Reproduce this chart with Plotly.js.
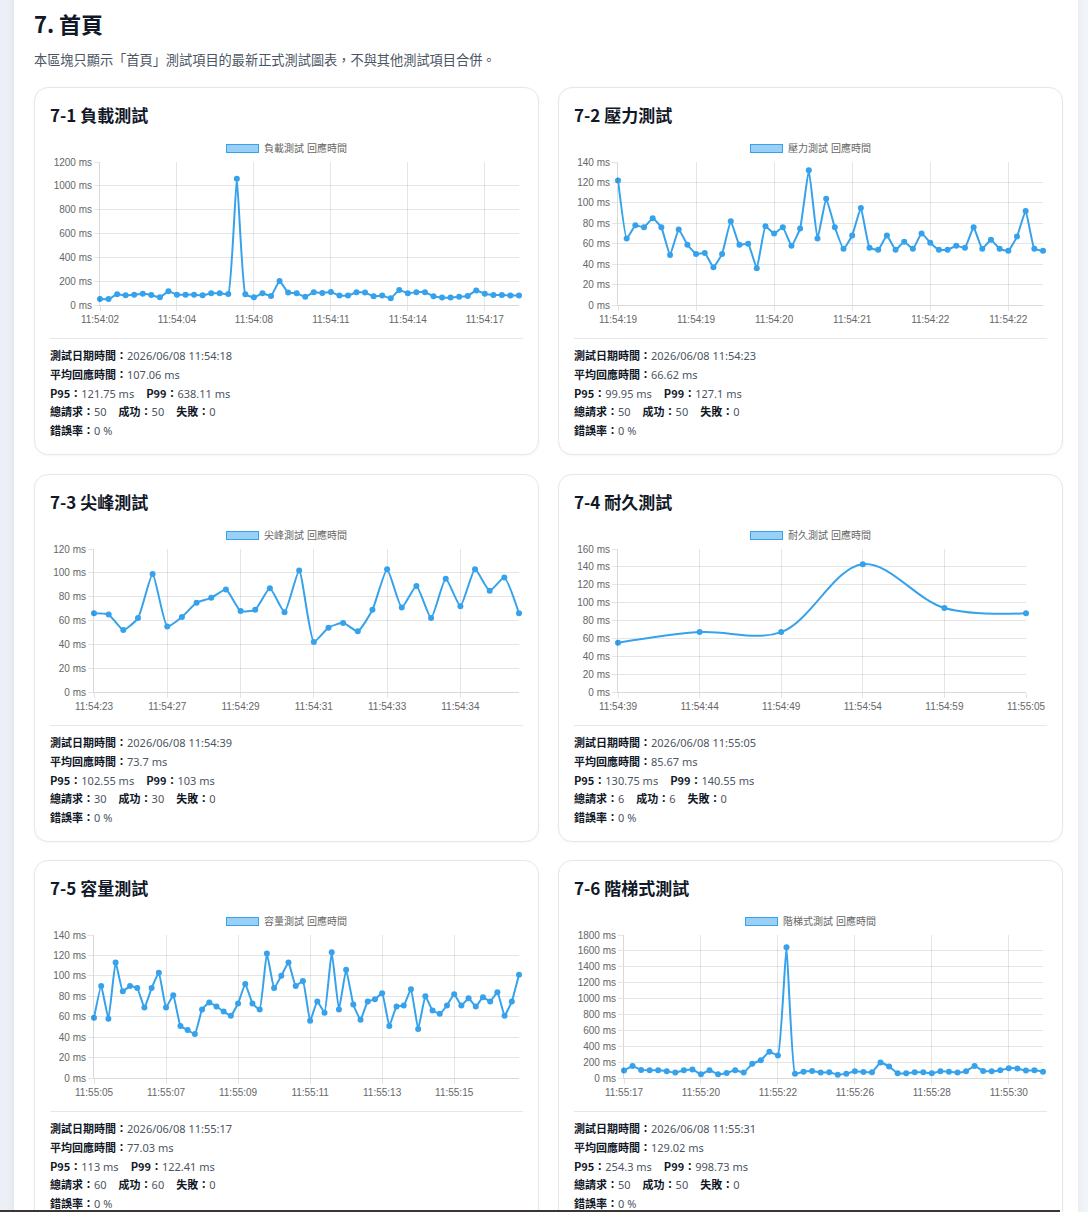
<!DOCTYPE html>
<html>
<head>
<meta charset="utf-8">
<script src="https://cdn.plot.ly/plotly-3.0.1.min.js"></script>
<style>
  html, body { margin:0; padding:0; }
  body { width:1088px; height:1212px; overflow:hidden; position:relative;
         background:linear-gradient(90deg,#eceff5 0%,#f1f4f8 100%);
         font-family:"Noto Sans","Noto Sans CJK TC",sans-serif; }
  .panel { position:absolute; left:14px; top:-30px; width:1064px; height:1300px; background:#fff;
           border-radius:16px; box-shadow:0 0 10px rgba(15,23,42,0.06); }
  .h1 { position:absolute; left:34px; top:7px; font-size:22px; font-weight:700; color:#111827; line-height:32px;
        font-family:"Noto Sans CJK TC","Noto Sans",sans-serif; }
  .sub { position:absolute; left:34px; top:51px; font-size:13.2px; color:#4b5563; line-height:18px;
         font-family:"Noto Sans CJK TC","Noto Sans",sans-serif; }
  .card { position:absolute; width:503px; height:366px; background:#fff; border:1px solid #e3e8ef;
          border-radius:14px; box-shadow:0 1px 3px rgba(15,23,42,0.04); }
  .ctitle { position:absolute; left:15px; top:14px; font-size:17px; font-weight:700; color:#111827; line-height:26px;
            font-family:"Noto Sans CJK TC","Noto Sans",sans-serif; }
  .legend { position:absolute; left:15px; width:473px; top:53px; height:16px; text-align:center;
            font-family:"Liberation Sans","Noto Sans CJK TC",sans-serif; font-size:10px; color:#666; line-height:16px; }
  .legend .box { display:inline-block; width:31px; height:7px; background:rgba(54,162,235,0.5);
                 border:1.5px solid #36a2eb; vertical-align:-1px; margin-right:5px; }
  .chart { position:absolute; left:15px; top:47px; width:473px; height:195px; }
  .divider { position:absolute; left:15px; width:473px; top:250px; height:1px; background:#e5e7eb; }
  .stats { position:absolute; left:15px; top:258px; font-size:11px; color:#4b5563;
           font-family:"Noto Sans","Noto Sans CJK TC",sans-serif; }
  .stats .row { height:18.75px; line-height:18px; white-space:nowrap; overflow:visible; }
  .stats b { color:#111827; font-weight:700; font-family:"Noto Sans CJK TC","Noto Sans",sans-serif; line-height:18px; }
  .gap { display:inline-block; width:12px; }
  .bottomline { position:absolute; left:0; top:1210px; width:1060px; height:2px; background:#3d3535; }
</style>
</head>
<body>
<div class="panel"></div>
<div class="h1">7. 首頁</div>
<div class="sub">本區塊只顯示「首頁」測試項目的最新正式測試圖表，不與其他測試項目合併。</div>
<div id="cards"></div>
<div class="bottomline"></div>
<script>
// ---------- DATA ----------
const cardTitles = ["7-1 負載測試", "7-2 壓力測試", "7-3 尖峰測試", "7-4 耐久測試", "7-5 容量測試", "7-6 階梯式測試"];
const seriesNames = ["負載測試 回應時間", "壓力測試 回應時間", "尖峰測試 回應時間", "耐久測試 回應時間", "容量測試 回應時間", "階梯式測試 回應時間"];

const loadValues = [50,50,90,81,87,95,84,64,115,87, 87,87,81,98,98,92,1060,90,64,98, 76,202,104,98,70,107,101,109,79,79, 107,104,73,79,56,126,98,107,107,73, 62,62,70,76,121,95,84,84,79,79];
const loadTicks = ["11:54:02","11:54:04","11:54:08","11:54:11","11:54:14","11:54:17"];

const stressValues = [122,65,78,76,85,76,49,74,59,50, 51,37,50,82,59,60,36,77,70,76, 58,75,132,65,104,76,55,68,95,56, 54,68,54,62,55,70,61,54,54,58, 56,76,55,64,55,53,67,92,55,53];
const stressTicks = ["11:54:19","11:54:19","11:54:20","11:54:21","11:54:22","11:54:22"];

const spikeValues = [66,65,52,62,99,55,63,75,79,86, 68,69,87,67,102,42,54,58,51,69, 103,71,89,62,95,72,103,85,96,66];
const spikeTicks = ["11:54:23","11:54:27","11:54:29","11:54:31","11:54:33","11:54:34"];

const soakValues = [55,67,67,143,94,88];
const soakTicks = ["11:54:39","11:54:44","11:54:49","11:54:54","11:54:59","11:55:05"];

const volumeValues = [59,90,58,113,85,90,88,69,88,103, 69,81,51,47,43,67,74,70,65,61, 73,92,73,67,122,88,100,113,90,95, 56,75,64,123,67,106,72,57,75,77, 83,51,70,71,87,48,80,66,63,71, 82,71,78,70,79,75,84,61,75,101];
const volumeTicks = ["11:55:05","11:55:07","11:55:09","11:55:11","11:55:13","11:55:15"];

const stepValues = [93,152,102,97,97,85,68,97,106,47, 97,47,64,97,68,178,224,330,284,1647, 55,80,89,68,72,42,55,85,76,72, 195,144,59,59,72,72,59,85,80,68, 85,152,89,85,97,123,119,93,97,80];
const stepTicks = ["11:55:17","11:55:20","11:55:22","11:55:26","11:55:28","11:55:30"];

const yMaxes = [1200, 140, 120, 160, 140, 1800];
const yStepsMs = [200, 20, 20, 20, 20, 200];

const testTimes = ["2026/06/08 11:54:18","2026/06/08 11:54:23","2026/06/08 11:54:39","2026/06/08 11:55:05","2026/06/08 11:55:17","2026/06/08 11:55:31"];
const avgTimes = ["107.06 ms","66.62 ms","73.7 ms","85.67 ms","77.03 ms","129.02 ms"];
const p95s = ["121.75 ms","99.95 ms","102.55 ms","130.75 ms","113 ms","254.3 ms"];
const p99s = ["638.11 ms","127.1 ms","103 ms","140.55 ms","122.41 ms","998.73 ms"];
const totals = [50,50,30,6,60,50];
const successes = [50,50,30,6,60,50];
const failures = [0,0,0,0,0,0];
const errorRates = ["0 %","0 %","0 %","0 %","0 %","0 %"];

// ---------- LAYOUT / STYLE ----------
const allValues = [loadValues, stressValues, spikeValues, soakValues, volumeValues, stepValues];
const allTicks = [loadTicks, stressTicks, spikeTicks, soakTicks, volumeTicks, stepTicks];
const cardPos = [[34,87],[558,87],[34,474],[558,474],[34,860],[558,860]];
const marginL = [50,44,44,44,44,50];
const marginR = [4,4,4,21,4,4];
const smooth = [0.35,0.35,0.5,1.0,0.35,0.35];

const container = document.getElementById('cards');
for (let k = 0; k < 6; k++) {
  const card = document.createElement('div');
  card.className = 'card';
  card.style.left = cardPos[k][0] + 'px';
  card.style.top = cardPos[k][1] + 'px';
  card.innerHTML =
    '<div class="ctitle">' + cardTitles[k] + '</div>' +
    '<div class="chart" id="chart' + k + '"></div>' +
    '<div class="legend"><span class="box"></span>' + seriesNames[k] + '</div>' +
    '<div class="divider"></div>' +
    '<div class="stats">' +
      '<div class="row"><b>測試日期時間：</b>' + testTimes[k] + '</div>' +
      '<div class="row"><b>平均回應時間：</b>' + avgTimes[k] + '</div>' +
      '<div class="row"><b>P95：</b>' + p95s[k] + '<span class="gap"></span><b>P99：</b>' + p99s[k] + '</div>' +
      '<div class="row"><b>總請求：</b>' + totals[k] + '<span class="gap"></span><b>成功：</b>' + successes[k] + '<span class="gap"></span><b>失敗：</b>' + failures[k] + '</div>' +
      '<div class="row"><b>錯誤率：</b>' + errorRates[k] + '</div>' +
    '</div>';
  container.appendChild(card);

  const vals = allValues[k];
  const ticks = allTicks[k];
  const n = vals.length;
  const step = Math.ceil(n / ticks.length);
  const xs = vals.map((_, i) => i);
  const tickvals = ticks.map((_, i) => i * step);

  const grid = 'rgba(0,0,0,0.1)';
  const trace = {
    x: xs, y: vals, type: 'scatter', mode: 'lines+markers',
    line: { color: '#36a2eb', width: 2, shape: 'spline', smoothing: smooth[k] },
    marker: { color: '#36a2eb', size: 6 },
    cliponaxis: false, hoverinfo: 'skip', showlegend: false
  };
  const layout = {
    width: 473, height: 195,
    margin: { l: marginL[k], r: marginR[k], t: 27, b: 25 },
    paper_bgcolor: 'rgba(0,0,0,0)', plot_bgcolor: 'rgba(0,0,0,0)',
    font: { family: '"Liberation Sans", Arial, sans-serif', size: 10, color: '#666' },
    showlegend: false,
    xaxis: {
      range: [0, n - 1], tickmode: 'array', tickvals: tickvals, ticktext: ticks,
      showgrid: true, gridcolor: grid, gridwidth: 1, zeroline: false,
      showline: true, linecolor: 'rgba(0,0,0,0.15)', linewidth: 1,
      ticks: 'outside', ticklen: 5, tickcolor: grid, fixedrange: true
    },
    yaxis: {
      range: [0, yMaxes[k]], dtick: yStepsMs[k], tick0: 0, ticksuffix: ' ms',
      showgrid: true, gridcolor: grid, gridwidth: 1, zeroline: false,
      showline: true, linecolor: 'rgba(0,0,0,0.15)', linewidth: 1,
      ticks: 'outside', ticklen: 5, tickcolor: grid, fixedrange: true
    }
  };
  Plotly.newPlot('chart' + k, [trace], layout, { displayModeBar: false, staticPlot: true });
}
</script>
</body>
</html>
